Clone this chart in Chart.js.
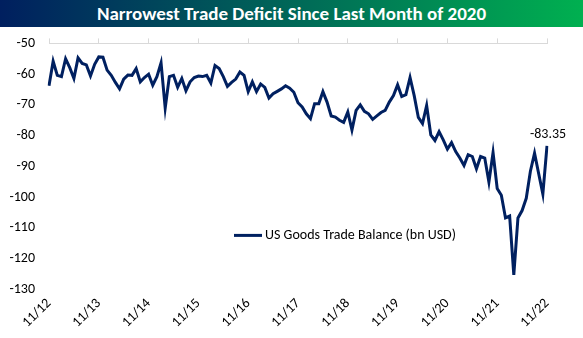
<!DOCTYPE html>
<html>
<head>
<meta charset="utf-8">
<script src="https://cdn.jsdelivr.net/npm/chart.js@4.4.1/dist/chart.umd.min.js"></script>
<style>
  body { margin: 0; background: #fff; }
  #title {
    position: absolute; left: 0; top: 0; width: 583px; height: 27px;
    background: linear-gradient(to right, #001f5f, #00b050);
    color: #fff; font: bold 19px Carlito, "Liberation Sans", sans-serif;
    text-align: center; line-height: 27px; white-space: nowrap;
  }
  #wrap { position: absolute; left: 0; top: 21px; width: 583px; height: 312px; }
</style>
</head>
<body>
<div id="title"><span id="tt">Narrowest Trade Deficit Since Last Month of 2020</span></div>
<div id="wrap"><canvas id="graph_canvas"></canvas></div>
<script>
// monthly, 11/12 .. 11/22
const yearTicks = ['11/12','11/13','11/14','11/15','11/16','11/17','11/18','11/19','11/20','11/21','11/22'];
const seriesName = 'US Goods Trade Balance (bn USD)';
const balance = [
  -63.8, -55.8, -60.4, -60.8, -55.0, -57.9, -61.4, -54.7, -56.5, -57.0, -60.6, -56.8,
  -54.4, -54.5, -58.7, -60.4, -62.7, -64.8, -61.6, -60.3, -60.4, -58.2, -62.5, -61.1,
  -60.0, -63.6, -60.8, -56.3, -71.0, -60.8, -60.4, -64.3, -61.4, -65.4, -62.5, -61.1,
  -60.6, -60.8, -60.4, -62.9, -57.2, -58.2, -60.8, -64.0, -62.7, -61.6, -59.3, -60.4,
  -65.7, -62.5, -65.7, -63.2, -64.3, -67.8, -66.4, -65.6, -64.8, -63.8, -64.6, -65.9,
  -69.3, -70.7, -72.9, -74.5, -69.6, -69.6, -65.7, -69.1, -73.6, -74.0, -75.0, -75.7,
  -72.3, -78.2, -71.8, -70.0, -72.1, -72.9, -74.7, -73.6, -72.5, -71.8, -69.1, -67.0,
  -63.5, -67.3, -66.7, -61.1, -67.0, -74.1, -76.1, -70.2, -79.8, -81.6, -78.7, -81.4,
  -84.4, -82.3, -85.2, -87.3, -89.7, -86.2, -86.8, -90.8, -86.8, -87.3, -95.1, -85.5,
  -97.2, -99.4, -106.8, -106.2, -125.3, -106.8, -104.4, -100.4, -91.6, -85.7, -92.4, -99.0,
  -83.35
];
const yMin = -130, yMax = -50, yStep = 10;

// month labels mm/yy
const months = [];
for (let i = 0; i < balance.length; i++) {
  const m = (10 + i) % 12 + 1;
  const y = 12 + Math.floor((10 + i) / 12);
  months.push(m + '/' + y);
}

const navy = '#002060';
const font = { family: 'Carlito, "Liberation Sans", sans-serif', size: 14 };
const noPad = (s) => { s.paddingLeft = 0; s.paddingRight = 0; };

// legend drawn inside the plot, and the last value label
const extras = {
  id: 'extras',
  afterDatasetsDraw(chart) {
    const c = chart.ctx, a = chart.chartArea;
    c.save();
    // legend
    const lx = a.left + 185, ly = a.top + 192;
    c.strokeStyle = navy; c.lineWidth = 3;
    c.beginPath(); c.moveTo(lx, ly); c.lineTo(lx + 28, ly); c.stroke();
    c.fillStyle = '#000';
    c.font = '14px ' + font.family;
    c.textBaseline = 'middle'; c.textAlign = 'left';
    c.fillText(seriesName, lx + 31, ly);
    // last point label
    const pts = chart.getDatasetMeta(0).data;
    const p = pts[pts.length - 1];
    c.textAlign = 'center';
    c.fillText(balance[balance.length - 1].toFixed(2), p.x + 1, p.y - 11);
    c.restore();
  }
};

const ctx = document.getElementById('graph_canvas');
const myChart = new Chart(ctx, {
  type: 'line',
  data: {
    labels: months,
    datasets: [{
      label: seriesName,
      data: balance,
      borderColor: navy,
      borderWidth: 3,
      pointRadius: 0,
      tension: 0,
      fill: false
    }]
  },
  options: {
    responsive: true,
    maintainAspectRatio: false,
    animation: false,
    layout: { padding: { left: 9, right: 36, top: 5, bottom: -4 } },
    plugins: { legend: { display: false }, tooltip: { enabled: false } },
    scales: {
      x: {
        position: 'bottom',
        grid: { display: false, drawTicks: false },
        border: { display: false },
        afterFit: noPad,
        ticks: {
          autoSkip: false, maxRotation: 45, minRotation: 45, padding: 6,
          color: '#000', font: font,
          callback: (v, i) => (i % 12 === 0 ? yearTicks[i / 12] : null)
        }
      },
      x2: {
        position: 'top',
        labels: months,
        afterFit: noPad,
        grid: {
          drawOnChartArea: false, tickLength: 5,
          color: (c) => (c.index % 12 === 0 ? '#d9d9d9' : 'rgba(0,0,0,0)')
        },
        border: { display: true, color: '#d9d9d9' },
        ticks: { display: false, autoSkip: false }
      },
      y: {
        min: yMin, max: yMax,
        afterFit: (s) => { s.width = 40; },
        grid: { display: false, drawTicks: false },
        border: { display: false },
        ticks: { stepSize: yStep, padding: 14, color: '#000', font: font }
      }
    }
  },
  plugins: [extras]
});
</script>
</body>
</html>
